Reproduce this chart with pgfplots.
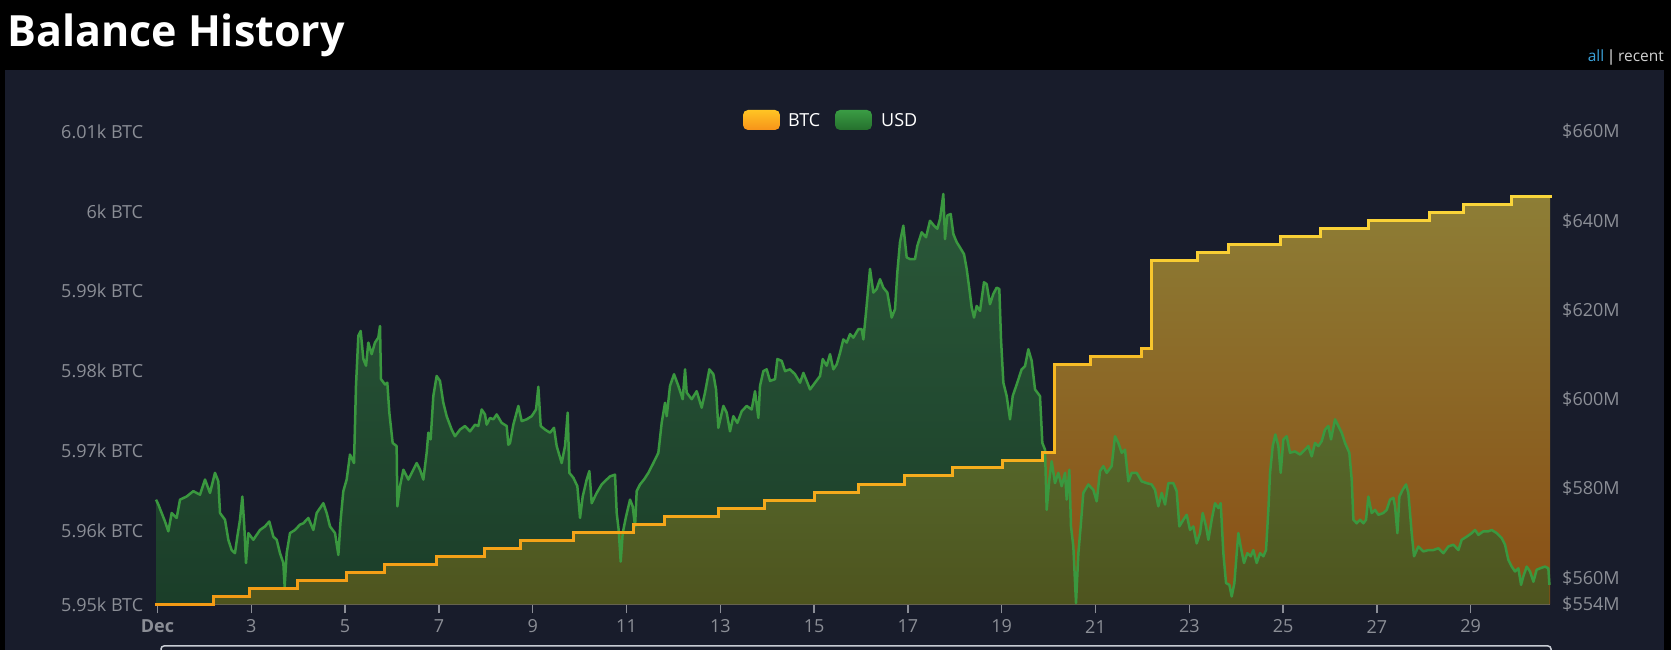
\documentclass[border=0pt]{standalone}
\usepackage{fontspec}
\setmainfont{Open Sans}
\usepackage{pgfplots}
\usepackage{pgfplotstable}
\pgfplotsset{compat=1.18}

\definecolor{panel}{RGB}{24,28,43}
\definecolor{tickgray}{RGB}{139,142,150}
\definecolor{axisgray}{RGB}{110,114,126}
\definecolor{usdline}{RGB}{58,152,63}
\definecolor{btctop}{RGB}{141,126,54}
\definecolor{btcbot}{RGB}{138,78,20}
\definecolor{usdtop}{RGB}{58,138,69}
\definecolor{usdbot}{RGB}{30,90,40}
\definecolor{allblue}{RGB}{59,163,220}
\definecolor{navbox}{RGB}{200,204,212}

% BTC balance (staircase), x = day of December
\pgfplotstableread{
x y
0.968 5950.75
2.20 5950.75
2.20 5951.8
2.96 5951.8
2.96 5952.8
3.99 5952.8
3.99 5953.8
5.02 5953.8
5.02 5954.8
5.84 5954.8
5.84 5955.8
6.94 5955.8
6.94 5956.8
7.97 5956.8
7.97 5957.8
8.75 5957.8
8.75 5958.8
9.87 5958.8
9.87 5959.8
11.15 5959.8
11.15 5960.8
11.80 5960.8
11.80 5961.8
12.96 5961.8
12.96 5962.8
13.95 5962.8
13.95 5963.8
15.00 5963.8
15.00 5964.8
15.94 5964.8
15.94 5965.8
16.92 5965.8
16.92 5966.85
17.96 5966.85
17.96 5967.85
19.01 5967.85
19.01 5968.85
19.87 5968.85
19.87 5969.8
20.12 5969.8
20.12 5980.85
20.90 5980.85
20.90 5981.8
21.98 5981.8
21.98 5982.8
22.20 5982.8
22.20 5993.8
23.17 5993.8
23.17 5994.8
23.83 5994.8
23.83 5995.8
24.95 5995.8
24.95 5996.8
25.80 5996.8
25.80 5997.8
26.82 5997.8
26.82 5998.8
28.12 5998.8
28.12 5999.8
28.84 5999.8
28.84 6000.8
29.86 6000.8
29.86 6001.8
30.69 6001.8
}\btcline

% USD value in millions
\pgfplotstableread{
x y
0.968 577.5
1.018 576.4
1.160 572.6
1.231 570.4
1.302 574.5
1.409 573.4
1.480 577.5
1.622 578.2
1.764 579.4
1.906 578.6
2.013 582.0
2.119 579.0
2.226 583.5
2.297 581.6
2.333 574.5
2.439 573.0
2.510 568.5
2.581 566.2
2.652 565.5
2.702 569.2
2.759 573.0
2.809 578.2
2.851 571.5
2.887 563.3
2.937 570.0
3.043 568.5
3.185 570.7
3.292 571.5
3.384 572.6
3.470 569.2
3.541 568.5
3.612 565.5
3.683 563.3
3.711 558.0
3.754 565.5
3.825 570.0
3.932 570.7
4.038 571.9
4.109 572.2
4.216 573.4
4.323 570.7
4.394 574.5
4.536 576.7
4.607 574.5
4.678 571.5
4.785 570.0
4.856 565.1
4.905 573.0
4.962 579.4
5.033 582.0
5.104 587.6
5.190 585.7
5.232 603.0
5.282 614.2
5.332 615.3
5.389 609.0
5.446 607.5
5.495 612.7
5.566 610.1
5.637 612.7
5.708 613.8
5.744 616.4
5.765 604.5
5.851 603.3
5.900 603.7
5.943 597.0
6.014 590.2
6.099 589.5
6.114 576.0
6.170 580.5
6.242 584.2
6.348 582.0
6.455 584.2
6.526 585.7
6.597 584.2
6.668 582.0
6.739 588.0
6.775 592.5
6.824 591.0
6.881 600.7
6.952 605.2
7.023 604.1
7.094 599.2
7.165 596.2
7.272 593.2
7.343 591.7
7.450 593.2
7.556 594.0
7.663 592.8
7.770 594.3
7.841 594.0
7.912 597.7
7.983 596.6
8.018 594.3
8.089 595.8
8.161 595.5
8.232 596.6
8.338 594.7
8.445 594.0
8.480 589.8
8.516 590.2
8.587 594.3
8.694 598.5
8.765 595.1
8.872 595.5
8.978 596.2
9.071 597.7
9.120 602.8
9.170 594.0
9.262 593.2
9.369 592.5
9.454 593.6
9.511 589.5
9.618 585.7
9.689 589.5
9.746 597.0
9.781 583.5
9.867 582.4
9.952 580.5
10.009 573.4
10.066 578.2
10.151 582.0
10.208 583.9
10.258 576.7
10.364 579.0
10.471 580.9
10.577 582.0
10.648 582.7
10.755 583.1
10.791 574.5
10.833 570.7
10.876 563.6
10.919 570.0
10.990 573.7
11.075 577.5
11.132 576.0
11.182 571.5
11.217 579.4
11.288 580.9
11.373 582.0
11.466 583.5
11.572 585.7
11.679 588.0
11.750 594.7
11.821 599.2
11.857 596.2
11.928 603.0
12.013 605.6
12.105 603.0
12.198 600.0
12.248 606.7
12.283 601.5
12.390 600.0
12.496 601.8
12.603 598.1
12.674 601.5
12.766 606.7
12.852 605.6
12.909 602.2
12.958 593.6
13.065 598.5
13.136 597.0
13.207 592.8
13.278 596.2
13.363 594.7
13.456 597.3
13.562 598.5
13.669 597.7
13.740 601.8
13.811 595.8
13.847 603.0
13.918 606.3
13.989 606.7
14.060 604.1
14.167 604.5
14.216 609.0
14.309 608.6
14.380 606.3
14.486 606.7
14.593 605.6
14.700 603.7
14.771 605.9
14.842 604.1
14.913 602.2
15.019 603.7
15.126 605.2
15.183 609.0
15.268 607.5
15.339 610.1
15.410 606.7
15.481 607.8
15.552 610.4
15.623 613.4
15.695 612.7
15.766 614.6
15.837 613.8
15.943 615.7
16.014 615.7
16.050 613.4
16.106 619.4
16.192 629.2
16.263 623.9
16.334 624.7
16.405 626.9
16.476 625.0
16.561 623.9
16.654 618.3
16.725 620.2
16.774 628.4
16.831 635.2
16.902 638.9
16.973 631.8
17.045 631.4
17.151 631.4
17.201 634.4
17.293 637.4
17.386 636.3
17.471 640.0
17.556 638.9
17.627 638.2
17.684 640.4
17.755 646.0
17.791 635.9
17.841 641.2
17.912 641.5
17.969 637.0
18.040 635.2
18.111 634.0
18.196 632.5
18.253 629.2
18.310 624.7
18.359 620.6
18.409 618.3
18.466 620.9
18.537 619.8
18.622 626.2
18.679 625.8
18.750 621.3
18.821 623.6
18.892 625.0
18.949 624.7
18.985 613.4
19.035 603.7
19.106 600.7
19.177 595.5
19.234 600.7
19.319 603.3
19.425 606.7
19.496 607.4
19.568 611.2
19.639 608.6
19.710 602.2
19.816 600.7
19.866 590.2
19.923 588.7
19.959 575.2
20.015 582.0
20.065 586.1
20.136 581.2
20.207 583.5
20.278 580.5
20.350 583.5
20.385 577.5
20.442 584.2
20.477 571.5
20.527 567.0
20.584 554.3
20.634 565.5
20.683 571.5
20.740 579.0
20.847 580.9
20.953 579.7
21.025 577.1
21.096 583.9
21.167 585.0
21.238 583.5
21.344 585.0
21.415 591.7
21.487 590.2
21.558 588.0
21.629 588.7
21.700 581.6
21.771 583.5
21.878 583.5
21.984 581.6
22.091 581.2
22.197 580.9
22.268 579.7
22.339 576.0
22.411 579.0
22.482 576.4
22.553 581.2
22.659 581.2
22.730 579.4
22.787 571.5
22.873 573.0
22.944 574.1
23.015 570.7
23.086 571.5
23.157 567.7
23.228 570.0
23.285 574.5
23.356 571.5
23.406 568.5
23.477 573.0
23.548 576.7
23.619 575.6
23.669 576.7
23.726 565.5
23.783 558.8
23.854 558.4
23.903 555.8
23.960 558.8
24.010 565.5
24.046 570.0
24.095 567.0
24.166 563.3
24.237 565.5
24.309 564.8
24.365 566.2
24.436 563.3
24.508 565.5
24.579 564.8
24.635 566.2
24.685 575.2
24.721 583.5
24.778 589.5
24.834 592.1
24.898 589.5
24.948 583.5
25.005 591.0
25.076 591.7
25.147 588.0
25.254 588.3
25.360 587.6
25.467 588.7
25.538 589.5
25.609 587.2
25.680 590.2
25.751 589.5
25.822 590.6
25.893 593.2
25.965 594.0
26.021 591.0
26.107 595.5
26.178 594.0
26.249 592.5
26.320 590.2
26.412 588.0
26.462 582.0
26.498 573.0
26.569 572.2
26.640 573.0
26.711 572.2
26.768 573.0
26.817 578.2
26.888 574.5
26.960 575.2
27.031 574.1
27.137 574.5
27.208 575.2
27.279 577.5
27.351 577.9
27.386 576.0
27.436 570.0
27.478 578.2
27.549 579.7
27.620 580.9
27.670 579.0
27.706 574.5
27.741 570.0
27.791 564.8
27.884 567.0
27.990 565.9
28.097 566.2
28.203 566.2
28.310 566.6
28.417 565.5
28.523 567.0
28.630 567.4
28.737 566.2
28.807 568.5
28.914 569.2
29.021 570.0
29.092 570.7
29.163 569.6
29.269 570.4
29.376 570.4
29.447 570.7
29.554 570.0
29.660 568.9
29.731 567.4
29.802 564.0
29.874 562.5
29.945 561.4
30.016 562.1
30.073 558.4
30.122 560.3
30.193 562.5
30.264 561.4
30.336 559.1
30.406 561.8
30.477 562.1
30.584 562.5
30.655 562.1
30.677 558.4
}\usd

\pgfplotsset{
  base/.style={at={(156pt,45.5pt)}, anchor=south west,
    width=1394pt, height=473pt, scale only axis,
    xmin=0.968, xmax=30.69, clip=false},
}

\begin{document}
\begin{tikzpicture}
% backgrounds
\fill[black] (0,0) rectangle (1671pt,650pt);
\fill[panel] (5pt,0) rectangle (1664pt,580pt);
\draw[navbox, line width=1.5pt, rounded corners=3pt] (161pt,-10pt) rectangle (1551pt,4pt);

% title and links
\node[anchor=base west, inner sep=0pt, text=white, font=\fontsize{43}{46}\selectfont\bfseries] at (7pt,603pt) {Balance History};
\node[anchor=base east, inner sep=0pt, font=\fontsize{15.5}{17}\selectfont] at (1664pt,588.3pt) {\textcolor{allblue}{all}\,\textcolor{white}{|}\,\textcolor{black!18}{recent}};

% axis A: BTC area, left and bottom axes
\begin{axis}[base, ymin=5950.75, ymax=6010,
  axis x line*=bottom, axis y line*=left,
  x axis line style={draw=axisgray, line width=1.5pt, -},
  y axis line style={draw=none},
  tick align=outside, major tick length=9pt,
  xtick={1,3,...,29},
  xticklabels={\textbf{Dec},3,5,7,9,11,13,15,17,19,21,23,25,27,29},
  x tick style={draw=tickgray, line width=1.5pt},
  ytick={5950.75,5960,5970,5980,5990,6000,6010},
  yticklabels={5.95k BTC,5.96k BTC,5.97k BTC,5.98k BTC,5.99k BTC,6k BTC,6.01k BTC},
  y tick style={draw=none},
  tick label style={font=\fontsize{18}{20}\selectfont, text=tickgray},
  yticklabel style={anchor=east, inner sep=0pt, xshift=-3.7pt},
  xticklabel style={anchor=center, inner sep=0pt, yshift=-13pt},
  /pgf/number format/assume math mode=true,
]
\addplot[draw=none, top color=btctop, bottom color=btcbot] table[x=x,y=y] {\btcline}
  -- (axis cs:30.69,5950.75) -- (axis cs:0.968,5950.75) -- cycle;
\end{axis}

% axis B: USD area and line, right axis
\begin{axis}[base, ymin=554, ymax=660,
  axis x line=none, axis y line*=right,
  y axis line style={draw=none},
  ytick={554,560,580,600,620,640,660},
  yticklabels={\$554M,\$560M,\$580M,\$600M,\$620M,\$640M,\$660M},
  y tick style={draw=none}, major tick length=0pt,
  tick label style={font=\fontsize{18}{20}\selectfont, text=tickgray},
  yticklabel style={anchor=west, inner sep=0pt, xshift=12pt},
  /pgf/number format/assume math mode=true,
]
\addplot[draw=none, top color=usdtop, bottom color=usdbot, fill opacity=0.55] table[x=x,y=y] {\usd}
  -- (axis cs:30.677,554) -- (axis cs:0.968,554) -- cycle;
\addplot[usdline, line width=2.5pt, line join=round] table[x=x,y=y] {\usd};
\end{axis}

% axis C: BTC line on top
\begin{axis}[base, ymin=5950.75, ymax=6010, hide axis,
  colormap={btcmap}{rgb255=(243,154,20) rgb255=(247,184,34) rgb255=(250,214,58)}]
\addplot[mesh, point meta=y, line width=3pt, line cap=rect] table[x=x,y=y] {\btcline};
\end{axis}

% legend
\shade[rounded corners=5pt, top color={rgb,255:red,255;green,196;blue,36}, bottom color={rgb,255:red,247;green,147;blue,26}] (743pt,520pt) rectangle (780pt,540pt);
\node[anchor=base west, inner sep=0pt, text=white, font=\fontsize{18}{20}\selectfont] at (788pt,523pt) {BTC};
\shade[rounded corners=5pt, top color={rgb,255:red,58;green,156;blue,68}, bottom color={rgb,255:red,37;green,112;blue,45}] (835pt,520pt) rectangle (872pt,540pt);
\node[anchor=base west, inner sep=0pt, text=white, font=\fontsize{18}{20}\selectfont] at (881pt,523pt) {USD};

\pgfresetboundingbox
\path[use as bounding box] (0,0) rectangle (1671pt,650pt);
\end{tikzpicture}
\end{document}
